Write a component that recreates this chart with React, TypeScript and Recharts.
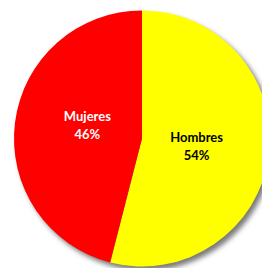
import { PieChart, Pie, Cell } from 'recharts';

// Gender split, clockwise from 12 o'clock
const categories = ['Hombres', 'Mujeres'];
const values = [54, 46];
const colors = ['#FFFF00', '#FF0000'];
const labelColors = ['#000000', '#FFFFFF'];

const data = categories.map((name, i) => ({ name, value: values[i] }));
const shadowData = [{ name: 'shadow', value: 1 }];

const RADIAN = Math.PI / 180;

function renderLabel(props: any) {
  const { cx, cy, midAngle, outerRadius, percent, index } = props;
  const r = outerRadius * 0.43;
  const x = cx + r * Math.cos(-midAngle * RADIAN);
  // Excel nudges the left label up a bit
  const y = cy + r * Math.sin(-midAngle * RADIAN) + (index === 1 ? -8 : 0);
  return (
    <text
      x={x}
      y={y}
      fill={labelColors[index]}
      textAnchor="middle"
      fontFamily="Lato, 'Open Sans', sans-serif"
      fontWeight={700}
      fontSize={13}
    >
      <tspan x={x} dy={-3}>{categories[index]}</tspan>
      <tspan x={x} dy={18}>{`${Math.round(percent * 100)}%`}</tspan>
    </text>
  );
}

export default function App() {
  return (
    <div style={{ position: 'absolute', left: 0, top: 0, width: 262, height: 268, background: '#fff' }}>
      <PieChart width={262} height={268} margin={{ top: 0, right: 0, bottom: 0, left: 0 }}>
        <defs>
          <filter id="pieShadow" x="-20%" y="-20%" width="140%" height="140%">
            <feGaussianBlur stdDeviation="2.5" />
          </filter>
        </defs>
        {/* soft drop shadow behind the pie */}
        <Pie
          data={shadowData}
          dataKey="value"
          cx={145.5}
          cy={142.5}
          outerRadius={128}
          startAngle={90}
          endAngle={-270}
          stroke="none"
          fill="#7a7a7a"
          style={{ filter: 'url(#pieShadow)' }}
          isAnimationActive={false}
        />
        <Pie
          data={data}
          dataKey="value"
          nameKey="name"
          cx={142}
          cy={138.5}
          outerRadius={128}
          startAngle={90}
          endAngle={-270}
          stroke="none"
          labelLine={false}
          label={renderLabel}
          isAnimationActive={false}
        >
          {data.map((d, i) => (
            <Cell key={d.name} fill={colors[i]} />
          ))}
        </Pie>
      </PieChart>
    </div>
  );
}
